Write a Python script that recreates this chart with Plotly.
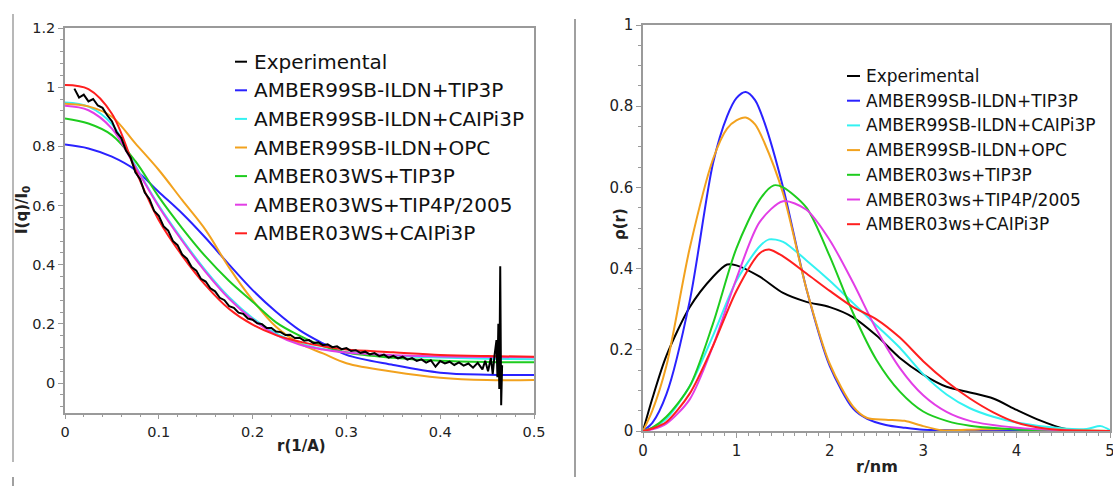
import plotly.graph_objects as go

# ---------------- data: left panel (SAXS intensity) ----------------
q_model = [0, 0.025, 0.05, 0.075, 0.1, 0.125, 0.15, 0.175, 0.2, 0.225, 0.25, 0.275, 0.3, 0.35, 0.4, 0.45, 0.5]
I_a99_tip3p = [0.806, 0.793, 0.765, 0.72, 0.646, 0.573, 0.49, 0.40, 0.314, 0.241, 0.179, 0.134, 0.095, 0.061, 0.035, 0.028, 0.027]
I_a99_caipi = [0.948, 0.934, 0.875, 0.735, 0.60, 0.485, 0.38, 0.29, 0.22, 0.168, 0.135, 0.115, 0.104, 0.092, 0.086, 0.082, 0.080]
I_a99_opc = [0.944, 0.935, 0.90, 0.81, 0.72, 0.618, 0.517, 0.39, 0.28, 0.19, 0.134, 0.10, 0.067, 0.038, 0.018, 0.010, 0.010]
I_a03_tip3p = [0.894, 0.877, 0.838, 0.75, 0.629, 0.523, 0.427, 0.345, 0.275, 0.205, 0.16, 0.125, 0.103, 0.085, 0.075, 0.071, 0.070]
I_a03_tip4p = [0.937, 0.922, 0.86, 0.73, 0.596, 0.48, 0.375, 0.285, 0.215, 0.163, 0.13, 0.113, 0.103, 0.094, 0.090, 0.088, 0.087]
I_a03_caipi = [1.007, 0.993, 0.91, 0.72, 0.55, 0.43, 0.33, 0.25, 0.197, 0.162, 0.14, 0.124, 0.113, 0.104, 0.095, 0.091, 0.089]

q_exp = [0.010, 0.015, 0.020, 0.025, 0.030, 0.035, 0.040, 0.045, 0.050, 0.055,
         0.060, 0.065, 0.070, 0.075, 0.080, 0.085, 0.090, 0.095, 0.100, 0.105,
         0.110, 0.115, 0.120, 0.125, 0.130, 0.135, 0.140, 0.145, 0.150, 0.155,
         0.160, 0.165, 0.170, 0.175, 0.180, 0.185, 0.190, 0.195, 0.200, 0.205,
         0.210, 0.215, 0.220, 0.225, 0.230, 0.235, 0.240, 0.245, 0.250, 0.255,
         0.260, 0.265, 0.270, 0.275, 0.280, 0.285, 0.290, 0.295, 0.300, 0.305,
         0.310, 0.315, 0.320, 0.325, 0.330, 0.335, 0.340, 0.345, 0.350, 0.355,
         0.360, 0.365, 0.370, 0.375, 0.380, 0.385, 0.390, 0.395, 0.400, 0.405,
         0.410, 0.415, 0.420, 0.425, 0.430, 0.435, 0.440, 0.445, 0.448, 0.451,
         0.454, 0.456, 0.458, 0.460, 0.461, 0.462, 0.463, 0.464, 0.465, 0.466]
I_exp = [0.995, 0.965, 0.975, 0.952, 0.960, 0.938, 0.930, 0.905, 0.885, 0.848,
         0.828, 0.786, 0.762, 0.712, 0.690, 0.644, 0.622, 0.582, 0.565, 0.530,
         0.515, 0.480, 0.466, 0.434, 0.420, 0.392, 0.380, 0.352, 0.343, 0.320,
         0.310, 0.288, 0.280, 0.260, 0.254, 0.238, 0.234, 0.218, 0.214, 0.202,
         0.199, 0.186, 0.186, 0.174, 0.172, 0.162, 0.163, 0.152, 0.153, 0.143,
         0.145, 0.135, 0.138, 0.128, 0.131, 0.121, 0.124, 0.114, 0.118, 0.108,
         0.111, 0.102, 0.106, 0.097, 0.101, 0.091, 0.096, 0.086, 0.092, 0.083,
         0.089, 0.079, 0.084, 0.075, 0.080, 0.069, 0.077, 0.055, 0.074, 0.066,
         0.072, 0.061, 0.070, 0.059, 0.066, 0.052, 0.068, 0.046, 0.075, 0.040,
         0.085, 0.030, 0.095, 0.145, 0.020, 0.200, -0.020, 0.395, -0.075, 0.060]

# ---------------- data: right panel (pair distance distribution) ----------------
r_exp = [0, 0.1, 0.25, 0.5, 0.75, 0.9, 1.0, 1.25, 1.5, 1.75, 2.0, 2.25, 2.5, 2.75, 3.0, 3.25, 3.5, 3.75, 4.0, 4.25, 4.5, 4.75, 5.0]
p_exp = [0, 0.08, 0.185, 0.305, 0.38, 0.41, 0.408, 0.38, 0.34, 0.318, 0.305, 0.28, 0.235, 0.18, 0.139, 0.109, 0.095, 0.08, 0.052, 0.026, 0.006, 0.0, 0.0]

r_a99_tip3p = [0, 0.1, 0.25, 0.5, 0.75, 0.9, 1.0, 1.1, 1.2, 1.3, 1.5, 1.75, 2.0, 2.25, 2.4, 2.6, 2.8, 3.0, 3.5, 4.0, 5.0]
p_a99_tip3p = [0, 0.02, 0.09, 0.32, 0.66, 0.775, 0.82, 0.835, 0.815, 0.76, 0.60, 0.35, 0.16, 0.055, 0.03, 0.015, 0.008, 0.003, 0.002, 0.001, 0.0]

r_a99_caipi = [0, 0.1, 0.25, 0.5, 0.75, 1.0, 1.25, 1.35, 1.5, 1.75, 2.0, 2.25, 2.5, 2.75, 3.0, 3.25, 3.5, 3.75, 4.0, 4.5, 4.75, 4.9, 5.0]
p_a99_caipi = [0, 0.008, 0.03, 0.11, 0.235, 0.37, 0.455, 0.472, 0.466, 0.42, 0.37, 0.315, 0.26, 0.205, 0.14, 0.09, 0.056, 0.035, 0.021, 0.006, 0.005, 0.012, 0.002]

r_a99_opc = [0, 0.1, 0.25, 0.5, 0.75, 0.9, 1.0, 1.1, 1.2, 1.3, 1.5, 1.75, 2.0, 2.25, 2.4, 2.6, 2.8, 3.0, 3.2, 3.6, 4.0, 4.5, 5.0]
p_a99_opc = [0, 0.05, 0.16, 0.45, 0.67, 0.745, 0.765, 0.772, 0.755, 0.71, 0.585, 0.35, 0.165, 0.06, 0.032, 0.028, 0.025, 0.012, 0.002, 0.004, 0.005, 0.003, 0.0]

r_a03_tip3p = [0, 0.1, 0.25, 0.5, 0.75, 1.0, 1.25, 1.4, 1.5, 1.75, 2.0, 2.25, 2.5, 2.75, 3.0, 3.25, 3.5, 4.0, 4.5, 5.0]
p_a03_tip3p = [0, 0.008, 0.035, 0.11, 0.265, 0.45, 0.57, 0.605, 0.60, 0.55, 0.43, 0.29, 0.175, 0.097, 0.048, 0.025, 0.013, 0.004, 0.001, 0]

r_a03_tip4p = [0, 0.1, 0.25, 0.5, 0.75, 1.0, 1.25, 1.5, 1.75, 2.0, 2.25, 2.5, 2.75, 3.0, 3.25, 3.5, 4.0, 4.5, 5.0]
p_a03_tip4p = [0, 0.004, 0.018, 0.078, 0.21, 0.375, 0.515, 0.566, 0.545, 0.47, 0.365, 0.25, 0.155, 0.088, 0.047, 0.025, 0.008, 0.002, 0]

r_a03_caipi = [0, 0.1, 0.25, 0.5, 0.75, 1.0, 1.25, 1.35, 1.5, 1.75, 2.0, 2.25, 2.5, 2.75, 3.0, 3.25, 3.5, 3.75, 4.0, 4.25, 4.5, 5.0]
p_a03_caipi = [0, 0.006, 0.022, 0.092, 0.21, 0.345, 0.438, 0.447, 0.43, 0.388, 0.345, 0.305, 0.275, 0.23, 0.172, 0.122, 0.08, 0.046, 0.021, 0.008, 0.002, 0]

left_names = ["Experimental", "AMBER99SB-ILDN+TIP3P", "AMBER99SB-ILDN+CAIPi3P", "AMBER99SB-ILDN+OPC",
              "AMBER03WS+TIP3P", "AMBER03WS+TIP4P/2005", "AMBER03WS+CAIPi3P"]
right_names = ["Experimental", "AMBER99SB-ILDN+TIP3P", "AMBER99SB-ILDN+CAIPi3P", "AMBER99SB-ILDN+OPC",
               "AMBER03ws+TIP3P", "AMBER03ws+TIP4P/2005", "AMBER03ws+CAIPi3P"]
colors = ["#000000", "#2a22ff", "#33f2f2", "#f2a21e", "#1ecc1e", "#e23ee6", "#ff1f1f"]

# ---------------- figure ----------------
W, H = 1113, 486
FONT = "DejaVu Sans"


def X(px):
    return px / W


def Y(py):
    return 1 - py / H


fig = go.Figure()

left_models = [I_a99_tip3p, I_a99_caipi, I_a99_opc, I_a03_tip3p, I_a03_tip4p, I_a03_caipi]
for i, ys in enumerate(left_models):
    fig.add_trace(go.Scatter(x=q_model, y=ys, mode="lines", name=left_names[i + 1],
                             line=dict(color=colors[i + 1], width=2, shape="spline", smoothing=1.0),
                             xaxis="x", yaxis="y", showlegend=False))
fig.add_trace(go.Scatter(x=q_exp, y=I_exp, mode="lines", name=left_names[0],
                         line=dict(color=colors[0], width=2), xaxis="x", yaxis="y", showlegend=False))

right_models = [(r_a99_tip3p, p_a99_tip3p), (r_a99_caipi, p_a99_caipi), (r_a99_opc, p_a99_opc),
                (r_a03_tip3p, p_a03_tip3p), (r_a03_tip4p, p_a03_tip4p), (r_a03_caipi, p_a03_caipi)]
fig.add_trace(go.Scatter(x=r_exp, y=p_exp, mode="lines", name=right_names[0],
                         line=dict(color=colors[0], width=2, shape="spline", smoothing=0.8),
                         xaxis="x2", yaxis="y2", showlegend=False))
for i, (xs, ys) in enumerate(right_models):
    fig.add_trace(go.Scatter(x=xs, y=ys, mode="lines", name=right_names[i + 1],
                             line=dict(color=colors[i + 1], width=2, shape="spline", smoothing=0.8),
                             xaxis="x2", yaxis="y2", showlegend=False))

axis_common = dict(showline=True, linecolor="#9a9a9a", linewidth=1.5, mirror=True,
                   ticks="outside", ticklen=5, tickwidth=1, tickcolor="#9a9a9a",
                   showgrid=False, zeroline=False, automargin=False, ticklabeloverflow="allow")

fig.update_layout(
    width=W, height=H, autosize=False, margin=dict(l=0, r=0, t=0, b=0, pad=0, autoexpand=False),
    paper_bgcolor="white", plot_bgcolor="white",
    font=dict(family=FONT, color="#222222"),
    xaxis=dict(domain=[X(65), X(534)], anchor="y", range=[0, 0.5], dtick=0.1, tick0=0,
               tickfont=dict(size=14.5, family=FONT, color="#222"),
               minor=dict(ticks="outside", ticklen=3, tickcolor="#9a9a9a", dtick=0.02, tick0=0, showgrid=False),
               **axis_common),
    yaxis=dict(domain=[Y(412.6), Y(28)], anchor="x", range=[-0.1, 1.2], dtick=0.2, tick0=0,
               tickfont=dict(size=14.5, family=FONT, color="#222"),
               minor=dict(ticks="outside", ticklen=3, tickcolor="#9a9a9a", dtick=0.04, tick0=0, showgrid=False),
               **axis_common),
    xaxis2=dict(domain=[X(643), X(1110)], anchor="y2", range=[0, 5], dtick=1, tick0=0,
                tickfont=dict(size=15, family=FONT, color="#222"),
                minor=dict(ticks="outside", ticklen=3, tickcolor="#9a9a9a", dtick=0.125, tick0=0, showgrid=False),
                **axis_common),
    yaxis2=dict(domain=[Y(431), Y(25)], anchor="x2", range=[0, 1], dtick=0.2, tick0=0,
                tickfont=dict(size=15, family=FONT, color="#222"),
                minor=dict(ticks="outside", ticklen=3, tickcolor="#9a9a9a", dtick=0.05, tick0=0, showgrid=False),
                **axis_common),
)

annotations = []
shapes = []

title_font = dict(size=15, family=FONT, color="#222")
# axis titles
annotations.append(dict(text="<b>I(q)/I<sub>0</sub></b>", x=X(23), y=Y(210), xref="paper", yref="paper",
                        xanchor="center", yanchor="middle", textangle=-90, showarrow=False, font=title_font))
annotations.append(dict(text="<b>r(1/A)</b>", x=X(301), y=Y(446), xref="paper", yref="paper",
                        xanchor="center", yanchor="middle", showarrow=False, font=title_font))
annotations.append(dict(text="<b>ρ(r)</b>", x=X(620), y=Y(224), xref="paper", yref="paper",
                        xanchor="center", yanchor="middle", textangle=-90, showarrow=False, font=title_font))
annotations.append(dict(text="<b>r/nm</b>", x=X(877), y=Y(466), xref="paper", yref="paper",
                        xanchor="center", yanchor="middle", showarrow=False,
                        font=dict(size=16, family=FONT, color="#222")))

# legends (drawn manually)
for i, name in enumerate(left_names):
    yy = 61.7 + 28.6 * i
    shapes.append(dict(type="line", xref="paper", yref="paper", x0=X(235), x1=X(247), y0=Y(yy), y1=Y(yy),
                       line=dict(color=colors[i], width=2)))
    annotations.append(dict(text=name, x=X(252), y=Y(yy), xref="paper", yref="paper", xanchor="left",
                            yanchor="middle", showarrow=False, font=dict(size=20, family=FONT, color="#111")))
for i, name in enumerate(right_names):
    yy = 76 + 24.7 * i
    shapes.append(dict(type="line", xref="paper", yref="paper", x0=X(847), x1=X(860), y0=Y(yy), y1=Y(yy),
                       line=dict(color=colors[i], width=2)))
    annotations.append(dict(text=name, x=X(864), y=Y(yy), xref="paper", yref="paper", xanchor="left",
                            yanchor="middle", showarrow=False, font=dict(size=17, family=FONT, color="#111")))

# separator lines
shapes.append(dict(type="line", xref="paper", yref="paper", x0=X(13), x1=X(13), y0=Y(14), y1=Y(462),
                   line=dict(color="#a0a0a0", width=1.5)))
shapes.append(dict(type="line", xref="paper", yref="paper", x0=X(13), x1=X(13), y0=Y(477), y1=Y(486),
                   line=dict(color="#808080", width=1.5)))
shapes.append(dict(type="line", xref="paper", yref="paper", x0=X(575), x1=X(575), y0=Y(19), y1=Y(477),
                   line=dict(color="#808080", width=1.5)))

fig.update_layout(annotations=annotations, shapes=shapes)

fig.write_html("out.html")
